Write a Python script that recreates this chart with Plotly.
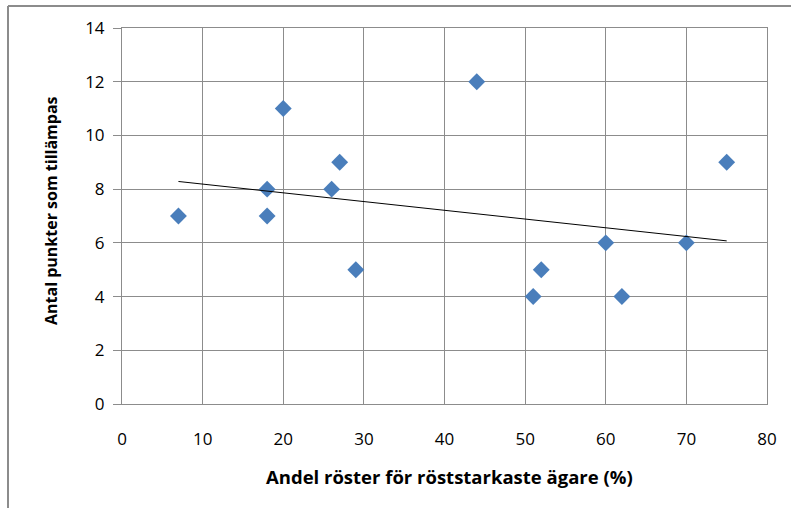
import numpy as np
import plotly.graph_objects as go

# Data
andel_roster = [7, 18, 18, 20, 26, 27, 29, 44, 51, 52, 60, 62, 70, 75]
antal_punkter = [7, 8, 7, 11, 8, 9, 5, 12, 4, 5, 6, 4, 6, 9]
x_ticks = [0, 10, 20, 30, 40, 50, 60, 70, 80]
y_ticks = [0, 2, 4, 6, 8, 10, 12, 14]
x_title = "Andel röster för röststarkaste ägare (%)"
y_title = "Antal punkter som tillämpas"

# Linear trendline (least squares) over the data range
slope, intercept = np.polyfit(andel_roster, antal_punkter, 1)
trend_x = [min(andel_roster), max(andel_roster)]
trend_y = [slope * v + intercept for v in trend_x]

W, H = 791, 508
ML, MR, MT, MB = 122, 24, 28, 104
PW, PH = W - ML - MR, H - MT - MB

def px_x(p):
    return (p - ML) / PW

def px_y(p):
    return 1 - (p - MT) / PH

font_family = "'Open Sans', sans-serif"

fig = go.Figure()
fig.add_trace(go.Scatter(
    x=andel_roster, y=antal_punkter, mode="markers",
    marker=dict(symbol="diamond", size=13, color="#4A7EBB",
                line=dict(width=0)),
    showlegend=False, hoverinfo="x+y"))
fig.add_trace(go.Scatter(
    x=trend_x, y=trend_y, mode="lines",
    line=dict(color="#000000", width=1),
    showlegend=False, hoverinfo="skip"))

fig.update_xaxes(
    range=[0, 80], tickvals=x_ticks, showgrid=True, gridcolor="#8C8C8C",
    gridwidth=1, zeroline=False, showline=True, linecolor="#8C8C8C",
    mirror=True, ticks="", ticklabelstandoff=20,
    tickfont=dict(family=font_family, size=17, color="#000"))
fig.update_yaxes(
    range=[0, 14], tickvals=y_ticks, showgrid=True, gridcolor="#8C8C8C",
    gridwidth=1, zeroline=False, showline=True, linecolor="#8C8C8C",
    mirror=True, ticks="outside", ticklen=8, tickcolor="#8C8C8C",
    ticklabelstandoff=5,
    tickfont=dict(family=font_family, size=17, color="#000"))

fig.add_annotation(
    text=x_title, xref="paper", yref="paper", x=px_x(449), y=px_y(477),
    showarrow=False, xanchor="center", yanchor="middle",
    font=dict(family=font_family, size=18.5, color="#000", weight="bold"))
fig.add_annotation(
    text=y_title, xref="paper", yref="paper", x=px_x(51), y=px_y(211),
    showarrow=False, xanchor="center", yanchor="middle", textangle=-90,
    font=dict(family=font_family, size=16, color="#000", weight="bold"))

# Outer chart frame (top and left edges visible)
fig.add_shape(type="line", xref="paper", yref="paper",
              x0=px_x(8), x1=px_x(795), y0=px_y(6), y1=px_y(6),
              line=dict(color="#8C8C8C", width=2))
fig.add_shape(type="line", xref="paper", yref="paper",
              x0=px_x(8), x1=px_x(8), y0=px_y(6), y1=px_y(512),
              line=dict(color="#8C8C8C", width=2))

fig.update_layout(
    width=W, height=H, margin=dict(l=ML, r=MR, t=MT, b=MB),
    plot_bgcolor="white", paper_bgcolor="white")

fig.write_html("out.html")
